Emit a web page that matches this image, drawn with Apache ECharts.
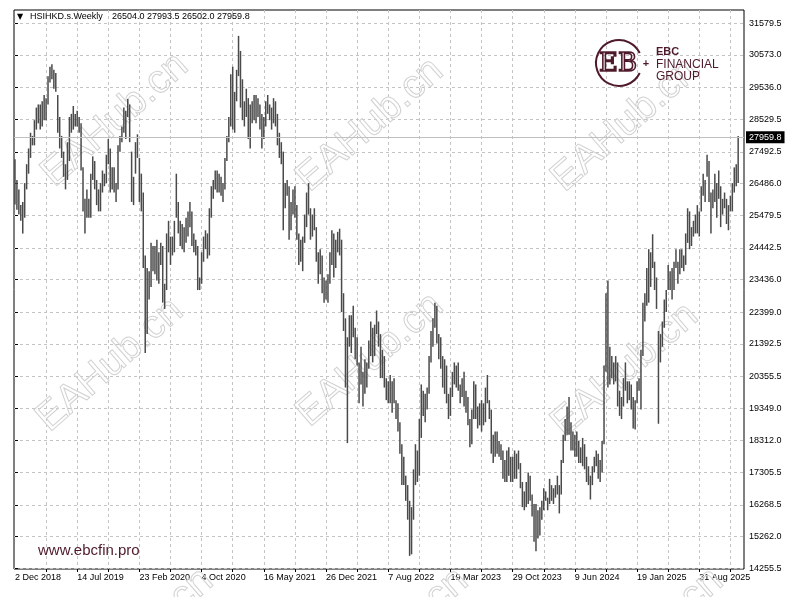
<!DOCTYPE html>
<html><head><meta charset="utf-8">
<script src="https://cdn.jsdelivr.net/npm/echarts@6/dist/echarts.min.js"></script>
<style>html,body{margin:0;padding:0;background:#fff}#c{width:800px;height:597px}</style>
</head><body><div id="c"></div>
<script>
// Weekly bars, HSIHKD.s, first bar = week of 2 Dec 2018
const weekHigh = [
27260,26600,26300,25800,25900,26500,27100,27600,28100,28000,
28500,28900,29000,29000,29100,29300,29200,29900,30200,30280,
30100,30000,29300,28600,28000,27500,27100,27800,28600,28700,
28950,28700,28800,28600,28400,27000,26000,26300,26000,26800,
27350,27200,26600,26300,26500,26900,26800,27400,27900,27600,
27000,27000,26500,27700,28000,28300,28900,28800,29175,29000,
27500,26700,27800,28050,27300,26800,26200,24200,23800,23700,
24600,24500,24500,24700,24300,24600,24500,23300,24900,25300,
24800,24800,25300,26800,25900,25300,25200,25100,25400,25600,
25900,25600,24900,24700,24500,23500,24300,24800,25000,24900,
25700,26400,26600,26900,26900,26800,26700,26500,27300,28000,
28600,29960,30200,29400,30100,31180,30700,29800,29100,29500,
29200,29000,29100,29300,29300,29200,29000,28700,28600,29100,
29300,29000,28900,29200,29100,28700,28100,27800,27500,26500,
26600,26400,25900,26300,26400,25800,24900,24700,24800,25500,
26200,26500,25700,25500,25700,25100,24300,24400,24200,23500,
23400,23600,24300,25000,24900,24700,24950,25050,24700,23000,
22200,21600,22300,22300,22600,21900,21600,20800,21300,20500,
20900,20800,21500,22100,21900,22000,22450,22100,21700,21200,
21000,20300,20200,20400,20200,20300,19600,19500,18900,18200,
17800,17200,16900,16400,16200,17400,18200,18000,19000,20100,
19900,19800,20000,21000,21800,22200,22700,22600,21700,21600,
21000,20900,20700,19800,20000,20500,20800,20700,20800,20100,
20300,20500,19900,19700,19000,19300,20200,20100,19400,19500,
19600,19500,20000,20400,19600,19300,18500,18600,18600,18300,
18200,18000,17700,18000,18100,17800,17800,18000,17900,18000,
17600,17000,16700,17000,17300,17200,16600,16300,16300,16100,
16200,16400,16800,16700,16500,17100,16900,16800,16900,17200,
16900,17700,18500,19000,19400,19700,18900,18600,18500,18600,
18300,18100,18400,18200,17800,17500,17200,17500,17800,18000,
17900,17700,18300,20700,23000,23400,21300,21000,20800,21000,
20800,19900,19700,20300,20800,20200,20200,20100,19700,19600,
20200,20300,21200,22700,23000,23800,24400,24300,24874,24000,
23500,21800,21700,22100,22800,23100,23900,23700,23800,24000,
24400,24000,24400,24400,24200,24900,25700,25600,25100,25300,
25500,25800,25600,26400,26800,26600,27400,27200,26200,26300,
26800,26500,26900,26400,26000,26200,26000,25800,26100,26500,
27000,27100,27993.5
];
const weekLow = [
25820,25650,25500,25300,24896,25400,26300,26800,27300,27700,
27700,28200,28400,28200,28300,28500,28500,29000,29700,29800,
29500,29400,28100,27600,27300,26700,26300,26600,27200,28100,
28200,28300,28300,28100,26900,25600,24900,25400,25400,25400,
26600,26300,25800,25600,25600,26200,26400,26500,27100,26200,
26300,26200,25900,26300,27500,27800,28100,27900,28600,27800,
25900,25800,26800,27300,25900,25600,23800,21100,21700,22800,
23200,23700,23600,23400,23300,23900,22700,22500,23100,24300,
23900,24200,24300,25400,24900,24500,24400,24300,24600,24800,
25100,24500,24300,24200,23100,23100,23300,24000,24400,24100,
24200,25400,26000,26300,26200,26200,26100,25900,26300,27200,
27800,28300,28200,28100,29100,29900,28900,28500,28300,28600,
27900,27600,28400,28500,28400,28600,28200,27600,27900,28300,
28700,28500,28200,28400,28300,27700,27300,27100,25000,25700,
26100,24700,25000,25500,25400,24700,23900,24000,23700,24600,
25100,25500,24700,24800,25000,24000,23300,23600,23000,22700,
22800,22700,23300,23900,23500,23800,24300,24200,22400,21800,
20000,18235,21300,21100,21600,20900,20700,19500,20100,19400,
19800,20000,20600,21000,20800,21000,21700,21300,20300,20300,
20000,19600,19500,19500,19200,19500,19000,18600,17900,16900,
16900,16400,15800,14650,14700,15800,16900,17000,17200,18400,
19100,18900,19300,19800,20800,21300,21900,21400,20900,20600,
20000,19800,19500,19000,19100,19700,20100,20000,19900,19500,
19700,19400,19200,18800,18100,18200,19000,19000,18700,18800,
18600,18800,18900,19500,19000,17900,17600,17800,17900,17800,
17700,17100,17000,17000,17200,17000,17000,17100,17100,17400,
16800,16200,16100,16200,16300,16400,15900,15100,14794,15200,
15300,15800,16100,16400,16100,16300,16400,16300,16500,16600,
16000,16600,17600,18300,18500,18500,18000,18000,17800,17800,
17600,17600,17500,17400,17000,16900,16441,16900,17300,17500,
17100,17000,17300,18200,20500,20000,20100,20300,20100,20200,
19400,19100,19000,19400,19900,19500,19600,19300,18700,18671,
19500,19900,19300,21000,22100,22600,22700,23200,23800,23100,
22500,18850,20800,21300,21900,22400,23100,23100,22800,23100,
23800,23300,23600,23800,23700,23900,24600,24400,24500,24800,
24900,24900,24800,25600,26100,25900,26700,25900,24900,25700,
25900,25400,26000,25100,25500,25700,25200,25000,25600,25600,
26200,26400,26502
];
const lastBar = [26504.0, 27993.5, 26502.0, 27959.8]; // open high low close
const dateLabels = ['2 Dec 2018','14 Jul 2019','23 Feb 2020','4 Oct 2020','16 May 2021','26 Dec 2021','7 Aug 2022','19 Mar 2023','29 Oct 2023','9 Jun 2024','19 Jan 2025','31 Aug 2025'];
const dateLabelIndex = [0,32,64,96,128,160,192,224,256,288,320,352];
const gridIndex = [16,32,48,64,80,96,112,128,144,160,176,192,208,224,240,256,272,288,304,320,336,352,368];
const priceTicks = [14255.5,15262.0,16268.5,17305.5,18312.0,19349.0,20355.5,21392.5,22399.0,23436.0,24442.5,25479.5,26486.0,27492.5,28529.5,29536.0,30573.0,31579.5];

const FONT = 'Liberation Sans, Arial, sans-serif';
const bars = weekHigh.map((h, i) => [i, weekLow[i], h]);
const chart = echarts.init(document.getElementById('c'), null, {renderer: 'canvas'});

const wm = [];
const wmPos = [[115,120],[370,125],[625,125],[110,365],[370,360],[625,370],[140,635],[395,635],[650,635]];
wmPos.forEach(p => wm.push({
  type: 'text', x: p[0], y: p[1], rotation: 0.72, z: 1, silent: true,
  style: {text: 'EAHub.cn', font: '40px ' + FONT, align: 'center', verticalAlign: 'middle',
          fill: 'rgba(0,0,0,0)', stroke: '#d2d2d2', lineWidth: 1}
}));

const maroon = '#4e1a2a';
const option = {
  animation: false,
  backgroundColor: '#ffffff',
  grid: {left: 14, right: 56, top: 10, bottom: 28, show: true, borderColor: '#000', borderWidth: 1},
  xAxis: {
    type: 'value', min: -0.5, max: 375,
    axisLine: {show: false},
    axisTick: {show: true, customValues: gridIndex, length: 3, lineStyle: {color: '#000'}},
    axisLabel: {customValues: dateLabelIndex, align: 'left', margin: 4, fontSize: 9, fontFamily: FONT, color: '#000',
      formatter: v => dateLabels[dateLabelIndex.indexOf(Math.round(v))] || ''},
    splitLine: {show: true, lineStyle: {color: '#c4c4c4', type: [3, 3], width: 1}}
  },
  yAxis: {
    type: 'value', position: 'right', min: 14233.2, max: 32002, scale: true,
    axisLine: {show: false},
    axisTick: {show: true, customValues: priceTicks, length: 3, lineStyle: {color: '#000'}},
    axisLabel: {customValues: priceTicks, margin: 5, fontSize: 9, fontFamily: FONT, color: '#000',
      formatter: v => Number(v).toFixed(1)},
    splitLine: {show: true, lineStyle: {color: '#c4c4c4', type: [3, 3], width: 1}}
  },
  graphic: wm.concat([
    {type: 'text', left: 17, top: 13, z: 10, style: {text: '▼', font: '8px DejaVu Sans', fill: '#000'}},
    {type: 'text', left: 30, top: 12, z: 10, style: {text: 'HSIHKD.s.Weekly', font: '9px ' + FONT, fill: '#000'}},
    {type: 'text', left: 112, top: 12, z: 10, style: {text: lastBar.map(v => v.toFixed(1)).join(' '), font: '9px ' + FONT, fill: '#000'}},
    {type: 'arc', z: 10, shape: {cx: 619, cy: 63, r: 23, startAngle: 0.45, endAngle: Math.PI * 2 - 0.45}, style: {stroke: maroon, lineWidth: 2, fill: 'none'}},
    {type: 'text', x: 618, y: 64, z: 10, style: {text: 'EB', font: '26px DejaVu Serif', align: 'center', verticalAlign: 'middle', fill: 'rgba(0,0,0,0)', stroke: maroon, lineWidth: 1.6}},
    {type: 'text', x: 646, y: 64, z: 10, style: {text: '+', font: 'bold 11px ' + FONT, align: 'center', verticalAlign: 'middle', fill: maroon}},
    {type: 'text', left: 656, top: 46, z: 10, style: {text: 'EBC', font: 'bold 11px ' + FONT, fill: maroon}},
    {type: 'text', left: 656, top: 59, z: 10, style: {text: 'FINANCIAL', font: '12px ' + FONT, fill: maroon}},
    {type: 'text', left: 656, top: 71, z: 10, style: {text: 'GROUP', font: '12px ' + FONT, fill: maroon}},
    {type: 'text', left: 38, top: 543, z: 10, style: {text: 'www.ebcfin.pro', font: '15px ' + FONT, fill: maroon}}
  ]),
  series: [
    {
      type: 'custom', data: bars, clip: true, z: 3,
      encode: {x: 0, y: [1, 2]},
      renderItem: (params, api) => {
        const lo = api.coord([api.value(0), api.value(1)]);
        const hi = api.coord([api.value(0), api.value(2)]);
        return {type: 'line', shape: {x1: lo[0], y1: lo[1], x2: hi[0], y2: hi[1]},
                style: {stroke: '#4a4a4a', lineWidth: 1.5}};
      }
    },
    {
      type: 'line', data: [], z: 2,
      markLine: {
        silent: true, symbol: 'none', animation: false,
        lineStyle: {color: '#c0c0c0', type: 'solid', width: 1},
        label: {show: true, position: 'end', distance: 2, formatter: lastBar[3].toFixed(1),
                backgroundColor: '#000', color: '#fff', fontSize: 9, fontFamily: FONT, padding: [2, 3, 1, 3]},
        data: [{yAxis: lastBar[3]}]
      }
    }
  ]
};
chart.setOption(option);
</script></body></html>
